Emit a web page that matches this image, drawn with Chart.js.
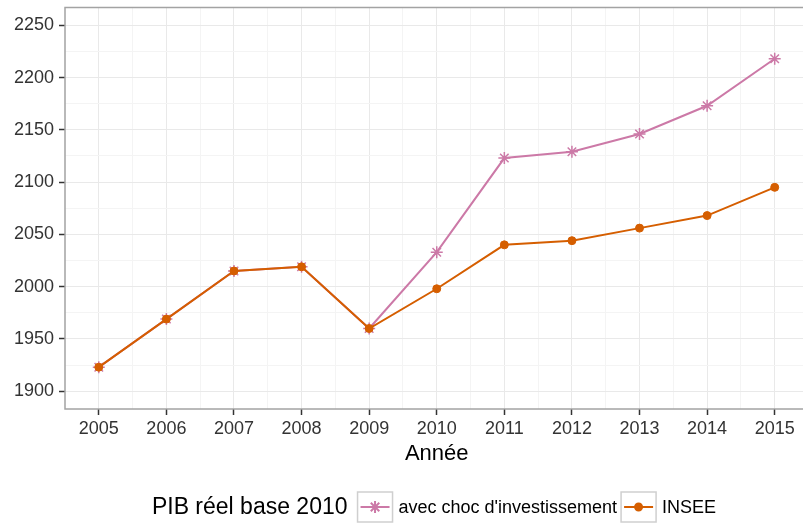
<!DOCTYPE html>
<html>
<head>
<meta charset="utf-8">
<title>PIB réel base 2010</title>
<script src="https://cdn.jsdelivr.net/npm/chart.js@4.4.0/dist/chart.umd.min.js"></script>
<style>
  html, body { margin: 0; padding: 0; background: #fff; overflow: hidden; }
  #wrap { width: 816px; height: 529px; }
</style>
</head>
<body>
<div id="wrap"><canvas id="pib" width="816" height="529"></canvas></div>
<script>
// données
var annees   = [2005, 2006, 2007, 2008, 2009, 2010, 2011, 2012, 2013, 2014, 2015];
var avecChoc = [1923, 1969, 2015, 2019, 1960, 2033, 2123, 2129, 2146, 2173, 2218];
var insee    = [1923, 1969, 2015, 2019, 1960, 1998, 2040, 2044, 2056, 2068, 2095];
var yTicks   = [1900, 1950, 2000, 2050, 2100, 2150, 2200, 2250];
var series   = ["avec choc d'investissement", "INSEE"];
var titreLegende = 'PIB réel base 2010';
var titreX = 'Année';

var rose = '#CC79A7', orange = '#D55E00';
var police = '"Liberation Sans", Arial, Helvetica, sans-serif';
var gridMajeur = '#e9e9e9', gridMineur = '#f4f4f4';

function points(ys) {
  return annees.map(function (a, i) { return {x: a, y: ys[i]}; });
}

// graduations principales + lignes mineures à mi-chemin
function avecMineurs(vals) {
  var t = [];
  vals.forEach(function (v, i) {
    t.push({value: v});
    if (i < vals.length - 1) t.push({value: (v + vals[i + 1]) / 2, minor: true});
  });
  return t;
}

function couleurGrille(ctx) {
  return ctx.tick && ctx.tick.minor ? gridMineur : gridMajeur;
}
function couleurTick(ctx) {
  return ctx.tick && ctx.tick.minor ? 'rgba(0,0,0,0)' : '#333';
}
function libelle(value, index, ticks) {
  return ticks[index].minor ? '' : String(value);
}

// cadre du panneau
var cadre = {
  id: 'cadre',
  afterDatasetsDraw: function (chart) {
    var c = chart.ctx, a = chart.chartArea;
    c.save();
    c.strokeStyle = '#a3a3a3';
    c.lineWidth = 1.5;
    c.strokeRect(a.left, a.top, a.right - a.left, a.bottom - a.top);
    c.restore();
  }
};

// légende horizontale sous l'axe
var legende = {
  id: 'legende',
  afterDraw: function (chart) {
    var c = chart.ctx;
    var centre = 434, y = 507, cle = 35, hCle = 30;
    var styles = [
      {color: rose, pointStyle: 'star', radius: 6},
      {color: orange, pointStyle: 'circle', radius: 3.5}
    ];
    c.save();
    c.textBaseline = 'middle';
    c.font = '23px ' + police;
    var wTitre = c.measureText(titreLegende).width;
    c.font = '18px ' + police;
    var wSeries = series.map(function (s) { return c.measureText(s).width; });
    var total = wTitre + 10 + series.length * (cle + 6) + wSeries[0] + 4 + wSeries[1];
    var x = centre - total / 2;

    c.fillStyle = '#000';
    c.font = '23px ' + police;
    c.fillText(titreLegende, x, y + 1);
    x += wTitre + 10;

    c.font = '18px ' + police;
    series.forEach(function (s, i) {
      var st = styles[i];
      c.fillStyle = '#fff';
      c.fillRect(x, y - hCle / 2, cle, hCle);
      c.strokeStyle = '#cfcfcf';
      c.lineWidth = 1.5;
      c.strokeRect(x, y - hCle / 2, cle, hCle);
      c.strokeStyle = st.color;
      c.lineWidth = 2;
      c.beginPath();
      c.moveTo(x + 3, y);
      c.lineTo(x + cle - 3, y);
      c.stroke();
      c.fillStyle = st.color;
      Chart.helpers.drawPoint(c, {pointStyle: st.pointStyle, radius: st.radius, borderWidth: 1.5}, x + cle / 2, y);
      if (st.pointStyle === 'circle') c.fill();
      x += cle + 6;
      c.fillStyle = '#000';
      c.fillText(s, x, y + 1);
      x += wSeries[i] + 4;
    });
    c.restore();
  }
};

new Chart(document.getElementById('pib'), {
  type: 'line',
  data: {
    datasets: [
      {
        label: series[0],
        data: points(avecChoc),
        borderColor: rose,
        backgroundColor: rose,
        borderWidth: 2,
        pointStyle: 'star',
        pointRadius: 6,
        pointBorderWidth: 1.5,
        order: 1
      },
      {
        label: series[1],
        data: points(insee),
        borderColor: orange,
        backgroundColor: orange,
        borderWidth: 2,
        pointStyle: 'circle',
        pointRadius: 4,
        pointBorderWidth: 1,
        order: 0
      }
    ]
  },
  options: {
    responsive: false,
    animation: false,
    layout: {padding: {left: 0, top: 7, right: 0, bottom: 60}},
    plugins: {legend: {display: false}, tooltip: {enabled: false}},
    scales: {
      x: {
        type: 'linear',
        min: 2004.5,
        max: 2015.5,
        afterBuildTicks: function (scale) { scale.ticks = avecMineurs(annees); },
        afterFit: function (scale) {
          scale.height = 60;
          scale.paddingLeft = 0;
          scale.paddingRight = 0;
        },
        ticks: {
          autoSkip: false,
          maxRotation: 0,
          padding: 3,
          color: '#333',
          font: {family: police, size: 18},
          callback: libelle
        },
        grid: {color: couleurGrille, lineWidth: 1, tickColor: couleurTick, tickLength: 6, tickWidth: 1.5},
        border: {display: false},
        title: {display: true, text: titreX, color: '#000', font: {family: police, size: 22}, padding: {top: 0, bottom: 2}}
      },
      y: {
        min: 1883,
        max: 2267,
        afterBuildTicks: function (scale) { scale.ticks = avecMineurs(yTicks); },
        afterFit: function (scale) {
          scale.width = 65;
          scale.paddingTop = 0;
          scale.paddingBottom = 0;
        },
        ticks: {
          padding: 5,
          color: '#333',
          font: {family: police, size: 18},
          callback: libelle
        },
        grid: {color: couleurGrille, lineWidth: 1, tickColor: couleurTick, tickLength: 6, tickWidth: 1.5},
        border: {display: false}
      }
    }
  },
  plugins: [cadre, legende]
});
</script>
</body>
</html>
